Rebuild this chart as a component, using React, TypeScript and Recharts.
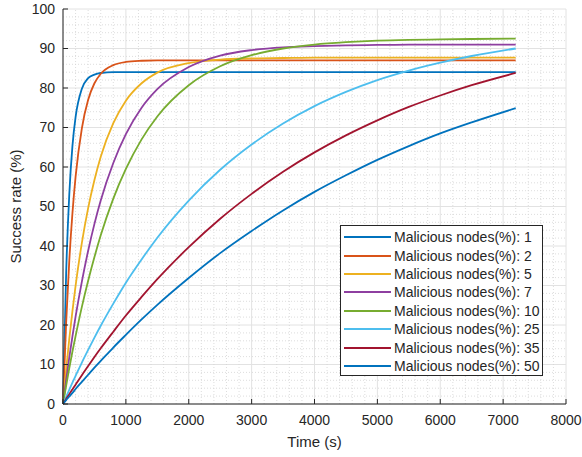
import React from "react";
import {
  CartesianGrid,
  Line,
  LineChart,
  ReferenceLine,
  XAxis,
  YAxis,
} from "recharts";

// time samples (s)
const times = [0, 50, 100, 150, 200, 300, 400, 500, 600, 800, 1000, 1250, 1500, 2000, 2500, 3000, 3500, 4000, 4500, 5000, 5500, 6000, 6500, 7200];

// success rate (%) per malicious-node share
const mal1 = [0, 33.1, 53.1, 65.3, 72.6, 79.8, 82.5, 83.4, 83.8, 84, 84, 84, 84, 84, 84, 84, 84, 84, 84, 84, 84, 84, 84, 84];
const mal2 = [0, 20.6, 36.3, 48.3, 57.5, 69.8, 77.0, 81.2, 83.6, 85.8, 86.6, 86.9, 87, 87, 87, 87, 87, 87, 87, 87, 87, 87, 87, 87];
const mal5 = [0, 8.7, 16.5, 23.5, 29.9, 40.8, 49.6, 56.7, 62.6, 71.1, 76.8, 81.2, 83.9, 86.3, 87.2, 87.5, 87.6, 87.7, 87.7, 87.7, 87.7, 87.7, 87.7, 87.7];
const mal7 = [0, 6.1, 11.8, 17.1, 22.1, 31.0, 38.8, 45.6, 51.5, 61.0, 68.3, 75.0, 79.7, 85.3, 88.2, 89.6, 90.3, 90.6, 90.8, 90.9, 91, 91, 91, 91];
const mal10 = [0, 4.6, 9.1, 13.3, 17.2, 24.6, 31.2, 37.2, 42.7, 52.0, 59.5, 67.0, 72.8, 80.7, 85.5, 88.3, 90.0, 91.0, 91.6, 92.0, 92.2, 92.3, 92.4, 92.5];
const mal25 = [0, 1.8, 3.6, 5.4, 7.1, 10.5, 13.7, 16.8, 19.8, 25.4, 30.7, 36.6, 42.1, 51.5, 59.3, 65.7, 71.0, 75.4, 79.0, 82.0, 84.4, 86.4, 88.1, 90.0];
const mal35 = [0, 1.3, 2.5, 3.7, 4.9, 7.3, 9.6, 11.9, 14.1, 18.3, 22.4, 27.1, 31.6, 39.7, 46.9, 53.2, 58.8, 63.7, 68.0, 71.8, 75.2, 78.1, 80.7, 83.8];
const mal50 = [0, 1.0, 1.9, 2.8, 3.8, 5.6, 7.4, 9.2, 10.9, 14.3, 17.5, 21.4, 25.1, 31.9, 38.2, 43.8, 49.0, 53.7, 57.9, 61.8, 65.3, 68.5, 71.3, 74.9];

const xTicks = [0, 1000, 2000, 3000, 4000, 5000, 6000, 7000, 8000];
const yTicks = [0, 10, 20, 30, 40, 50, 60, 70, 80, 90, 100];

const series = [
  { key: "m1", label: "Malicious nodes(%): 1", values: mal1, color: "#0072BD" },
  { key: "m2", label: "Malicious nodes(%): 2", values: mal2, color: "#D95319" },
  { key: "m5", label: "Malicious nodes(%): 5", values: mal5, color: "#EDB120" },
  { key: "m7", label: "Malicious nodes(%): 7", values: mal7, color: "#8E3FA0" },
  { key: "m10", label: "Malicious nodes(%): 10", values: mal10, color: "#77AC30" },
  { key: "m25", label: "Malicious nodes(%): 25", values: mal25, color: "#4DBEEE" },
  { key: "m35", label: "Malicious nodes(%): 35", values: mal35, color: "#A2142F" },
  { key: "m50", label: "Malicious nodes(%): 50", values: mal50, color: "#0072BD" },
];

const rows = times.map((t, i) => {
  const row: Record<string, number> = { t };
  series.forEach((s) => (row[s.key] = s.values[i]));
  return row;
});

// minor grid positions (dotted)
const minorX = Array.from({ length: 41 }, (_, i) => i * 200).filter((v) => v % 1000 !== 0);
const minorY = Array.from({ length: 51 }, (_, i) => i * 2).filter((v) => v % 10 !== 0);

const FONT = "'Liberation Sans', Arial, Helvetica, sans-serif";
const INK = "#262626";

function LegendBox() {
  return (
    <div
      style={{
        position: "absolute",
        left: 340,
        top: 225,
        width: 201,
        height: 147,
        border: "1px solid #262626",
        background: "#fff",
        fontFamily: FONT,
        fontSize: 14,
        color: INK,
        paddingTop: 2,
        boxSizing: "content-box",
      }}
    >
      {series.map((s) => (
        <div key={s.key} style={{ display: "flex", alignItems: "center", height: 18.4 }}>
          <div style={{ width: 47, height: 2, background: s.color, marginLeft: 3, marginRight: 3 }} />
          <span style={{ whiteSpace: "nowrap" }}>{s.label}</span>
        </div>
      ))}
    </div>
  );
}

export default function App() {
  return (
    <div style={{ position: "fixed", left: 0, top: 0, width: 582, height: 457, background: "#fff" }}>
      <LineChart width={582} height={457} data={rows} margin={{ top: 9, right: 16, left: 0, bottom: 0 }}>
        {minorX.map((v) => (
          <ReferenceLine key={"mx" + v} x={v} stroke="#d4d4d4" strokeDasharray="1 2" strokeWidth={0.8} />
        ))}
        {minorY.map((v) => (
          <ReferenceLine key={"my" + v} y={v} stroke="#d4d4d4" strokeDasharray="1 2" strokeWidth={0.8} />
        ))}
        <CartesianGrid stroke="#e2e2e2" strokeWidth={1} />
        <XAxis
          dataKey="t"
          type="number"
          domain={[0, 8000]}
          ticks={xTicks}
          interval={0}
          height={53}
          tickSize={-5}
          tickMargin={16}
          stroke={INK}
          tick={{ fill: INK, fontSize: 14, fontFamily: FONT }}
          label={{ value: "Time (s)", position: "insideBottom", offset: 10, fill: INK, fontSize: 15, fontFamily: FONT }}
        />
        <XAxis xAxisId="top" orientation="top" type="number" domain={[0, 8000]} ticks={xTicks} height={0} tickSize={-5} tick={false} stroke={INK} />
        <YAxis
          type="number"
          domain={[0, 100]}
          ticks={yTicks}
          interval={0}
          width={63}
          tickSize={-5}
          tickMargin={13}
          stroke={INK}
          tick={{ fill: INK, fontSize: 14, fontFamily: FONT }}
          label={{
            value: "Success rate (%)",
            angle: -90,
            position: "insideLeft",
            offset: 16,
            fill: INK,
            fontSize: 15,
            fontFamily: FONT,
            style: { textAnchor: "middle" },
          }}
        />
        <YAxis yAxisId="right" orientation="right" type="number" domain={[0, 100]} ticks={yTicks} width={0} tickSize={-5} tick={false} stroke={INK} />
        {series.map((s) => (
          <Line
            key={s.key}
            type="monotone"
            dataKey={s.key}
            stroke={s.color}
            strokeWidth={1.8}
            dot={false}
            isAnimationActive={false}
          />
        ))}
      </LineChart>
      <LegendBox />
    </div>
  );
}
